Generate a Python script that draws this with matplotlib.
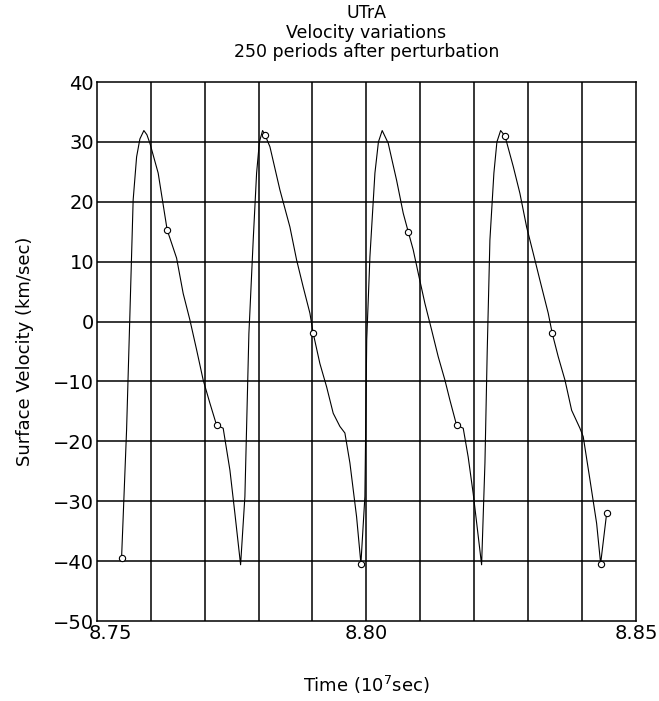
import matplotlib
matplotlib.use("Agg")
import matplotlib.pyplot as plt
import matplotlib.transforms as mtransforms

plt.rcParams['font.family'] = ['DejaVu Sans']
plt.rcParams['axes.unicode_minus'] = True

# surface velocity curve (time in 1e7 s, velocity km/s)
time = [8.75458, 8.75551, 8.75599, 8.75673, 8.75737, 8.75798, 8.75872, 8.75928,
        8.75983, 8.76137, 8.76304, 8.76479, 8.76601, 8.76725, 8.76850, 8.76972,
        8.77096, 8.77221, 8.77343, 8.77468, 8.77560, 8.77666, 8.77746, 8.77820,
        8.77900, 8.77963, 8.78015, 8.78074, 8.78117, 8.78210, 8.78395, 8.78581,
        8.78705, 8.78827, 8.78952, 8.79013, 8.79137, 8.79262, 8.79384, 8.79508,
        8.79601, 8.79694, 8.79818, 8.79898, 8.79972, 8.80006, 8.80065, 8.80158,
        8.80223, 8.80293, 8.80404, 8.80560, 8.80683, 8.80776, 8.80868, 8.80961,
        8.81085, 8.81210, 8.81332, 8.81456, 8.81549, 8.81673, 8.81796, 8.81888,
        8.81981, 8.82137, 8.82199, 8.82241, 8.82291, 8.82365, 8.82421, 8.82490,
        8.82570, 8.82724, 8.82848, 8.82972, 8.83095, 8.83219, 8.83373, 8.83447,
        8.83558, 8.83683, 8.83807, 8.83961, 8.84022, 8.84147, 8.84271, 8.84345,
        8.84457]
velocity = [-39.5, -18.1, -3.1, 20.3, 27.5, 30.5, 31.9, 31.2,
            29.8, 24.8, 15.3, 10.6, 4.7, 0.3, -4.7, -9.75,
            -13.6, -17.3, -17.8, -24.8, -32.0, -40.6, -29.2, -2.0,
            13.6, 24.8, 30.0, 31.9, 31.2, 29.2, 22.0, 15.8,
            10.3, 5.8, 1.4, -1.95, -7.0, -10.9, -15.3, -17.5,
            -18.6, -23.6, -32.6, -40.4, -29.2, -3.0, 10.8, 24.8,
            30.0, 31.9, 29.8, 23.6, 18.1, 15.0, 12.0, 8.1,
            3.05, -1.4, -5.85, -9.75, -13.1, -17.3, -17.8, -22.6,
            -28.7, -40.6, -23.6, -5.0, 13.6, 24.8, 30.0, 31.9,
            31.0, 25.9, 21.4, 15.8, 11.4, 6.9, 1.4, -1.95,
            -5.85, -9.75, -14.8, -17.8, -19.2, -26.4, -33.7, -40.4,
            -32.0]

# computed points marked with small circles
pt_time = [8.75458, 8.76304, 8.77221, 8.78117, 8.79013, 8.79898,
           8.80776, 8.81673, 8.82570, 8.83447, 8.84345, 8.84457]
pt_vel = [-39.5, 15.3, -17.3, 31.2, -1.95, -40.4,
          15.0, -17.3, 31.0, -1.95, -40.4, -32.0]

x_ticks = [8.75, 8.80, 8.85]
x_ticklabels = ['8.75', '8.80', '8.85']
y_ticks = [-50, -40, -30, -20, -10, 0, 10, 20, 30, 40]

fig = plt.figure(figsize=(6.59, 7.01), dpi=100)
ax = fig.add_axes([0.147, 0.114, 0.818, 0.769])

# grid every 0.01 in time and 10 km/s in velocity
for gx in [8.75 + 0.01 * i for i in range(1, 10)]:
    ax.axvline(gx, color='black', lw=1.1, zorder=1)
for gy in y_ticks[1:-1]:
    ax.axhline(gy, color='black', lw=1.1, zorder=1)

ax.plot(time, velocity, color='black', lw=0.8, zorder=2)
ax.plot(pt_time, pt_vel, 'o', ms=4.5, mfc='white', mec='black', mew=0.8, zorder=3)

ax.set_xlim(8.75, 8.85)
ax.set_ylim(-50, 40)
ax.set_xticks(x_ticks)
ax.set_xticklabels(x_ticklabels)
ax.set_yticks(y_ticks)
ax.tick_params(length=0, labelsize=14, pad=2)
for sp in ax.spines.values():
    sp.set_linewidth(1.1)

# first time label sits to the right of the corner
lbl = ax.get_xticklabels()[0]
lbl.set_transform(lbl.get_transform() + mtransforms.ScaledTranslation(14 / 100, 0, fig.dpi_scale_trans))

ax.set_xlabel('Time (10$^7$sec)', fontsize=13, labelpad=22)
ax.set_ylabel('Surface Velocity (km/sec)', fontsize=13, labelpad=14)
ax.set_title('UTrA\nVelocity variations\n250 periods after perturbation',
             fontsize=12.5, linespacing=1.1, pad=18)

fig.savefig('out.png', dpi=100)
